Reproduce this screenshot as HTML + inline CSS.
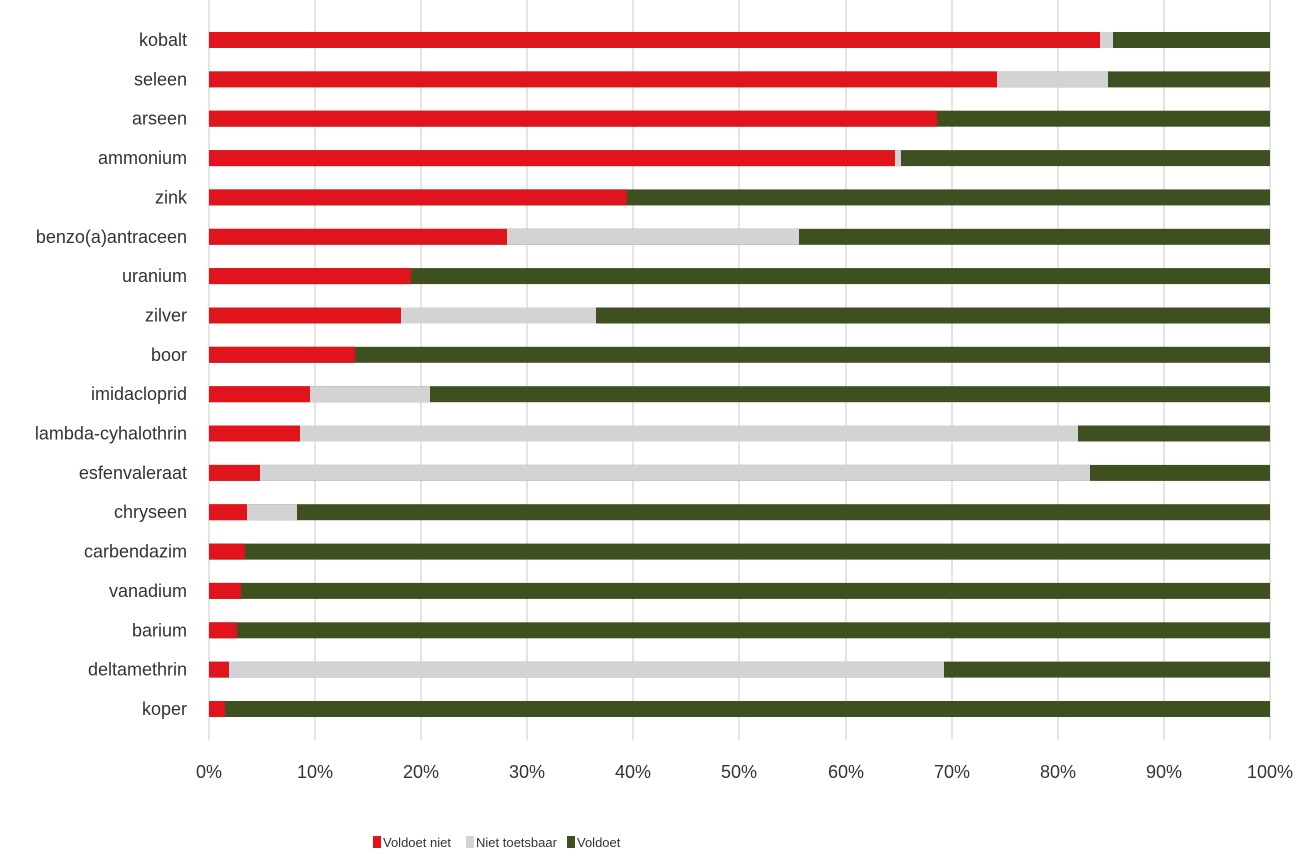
<!DOCTYPE html>
<html><head><meta charset="utf-8"><style>
body{margin:0;background:#fff;}
svg text{font-family:"Liberation Sans",sans-serif;fill:#333;}
</style></head><body>
<svg width="1299" height="860" xmlns="http://www.w3.org/2000/svg">
<g stroke="#c8c8c8" stroke-width="1">
<line x1="209" y1="0" x2="209" y2="740"/><line x1="315" y1="0" x2="315" y2="740"/><line x1="421" y1="0" x2="421" y2="740"/><line x1="527" y1="0" x2="527" y2="740"/><line x1="633" y1="0" x2="633" y2="740"/><line x1="739" y1="0" x2="739" y2="740"/><line x1="846" y1="0" x2="846" y2="740"/><line x1="952" y1="0" x2="952" y2="740"/><line x1="1058" y1="0" x2="1058" y2="740"/><line x1="1164" y1="0" x2="1164" y2="740"/><line x1="1270" y1="0" x2="1270" y2="740"/>
</g>
<g fill="#3e5020">
<rect x="209" y="32" width="1061" height="16"/><rect x="209" y="71.4" width="1061" height="16"/><rect x="209" y="110.7" width="1061" height="16"/><rect x="209" y="150.1" width="1061" height="16"/><rect x="209" y="189.4" width="1061" height="16"/><rect x="209" y="228.8" width="1061" height="16"/><rect x="209" y="268.1" width="1061" height="16"/><rect x="209" y="307.5" width="1061" height="16"/><rect x="209" y="346.8" width="1061" height="16"/><rect x="209" y="386.2" width="1061" height="16"/><rect x="209" y="425.5" width="1061" height="16"/><rect x="209" y="464.9" width="1061" height="16"/><rect x="209" y="504.2" width="1061" height="16"/><rect x="209" y="543.6" width="1061" height="16"/><rect x="209" y="582.9" width="1061" height="16"/><rect x="209" y="622.3" width="1061" height="16"/><rect x="209" y="661.6" width="1061" height="16"/><rect x="209" y="701" width="1061" height="16"/>
</g>
<g fill="#d3d3d3">
<rect x="209" y="32" width="904" height="16"/><rect x="209" y="71.4" width="899" height="16"/><rect x="209" y="150.1" width="692" height="16"/><rect x="209" y="228.8" width="590" height="16"/><rect x="209" y="307.5" width="387" height="16"/><rect x="209" y="386.2" width="221" height="16"/><rect x="209" y="425.5" width="869" height="16"/><rect x="209" y="464.9" width="881" height="16"/><rect x="209" y="504.2" width="88" height="16"/><rect x="209" y="661.6" width="735" height="16"/>
</g>
<g fill="#e0141c">
<rect x="209" y="32" width="891" height="16"/><rect x="209" y="71.4" width="788" height="16"/><rect x="209" y="110.7" width="728" height="16"/><rect x="209" y="150.1" width="686" height="16"/><rect x="209" y="189.4" width="418" height="16"/><rect x="209" y="228.8" width="298" height="16"/><rect x="209" y="268.1" width="202" height="16"/><rect x="209" y="307.5" width="192" height="16"/><rect x="209" y="346.8" width="146" height="16"/><rect x="209" y="386.2" width="101" height="16"/><rect x="209" y="425.5" width="91" height="16"/><rect x="209" y="464.9" width="51" height="16"/><rect x="209" y="504.2" width="38" height="16"/><rect x="209" y="543.6" width="36" height="16"/><rect x="209" y="582.9" width="32" height="16"/><rect x="209" y="622.3" width="28" height="16"/><rect x="209" y="661.6" width="20" height="16"/><rect x="209" y="701" width="16" height="16"/>
</g>
<g font-size="18" text-anchor="end">
<text x="187" y="46">kobalt</text><text x="187" y="85.4">seleen</text><text x="187" y="124.7">arseen</text><text x="187" y="164.1">ammonium</text><text x="187" y="203.4">zink</text><text x="187" y="242.8">benzo(a)antraceen</text><text x="187" y="282.1">uranium</text><text x="187" y="321.5">zilver</text><text x="187" y="360.8">boor</text><text x="187" y="400.2">imidacloprid</text><text x="187" y="439.5">lambda-cyhalothrin</text><text x="187" y="478.9">esfenvaleraat</text><text x="187" y="518.2">chryseen</text><text x="187" y="557.6">carbendazim</text><text x="187" y="596.9">vanadium</text><text x="187" y="636.3">barium</text><text x="187" y="675.6">deltamethrin</text><text x="187" y="715">koper</text>
</g>
<g font-size="18" text-anchor="middle">
<text x="209" y="778">0%</text><text x="315" y="778">10%</text><text x="421" y="778">20%</text><text x="527" y="778">30%</text><text x="633" y="778">40%</text><text x="739" y="778">50%</text><text x="846" y="778">60%</text><text x="952" y="778">70%</text><text x="1058" y="778">80%</text><text x="1164" y="778">90%</text><text x="1270" y="778">100%</text>
</g>
<rect x="373" y="836" width="8" height="12" fill="#e0141c"/><text x="383" y="847" font-size="13">Voldoet niet</text>
<rect x="466" y="836" width="8" height="12" fill="#d3d3d3"/><text x="476" y="847" font-size="13">Niet toetsbaar</text>
<rect x="567" y="836" width="8" height="12" fill="#3e5020"/><text x="577" y="847" font-size="13">Voldoet</text>
</svg>
</body></html>
